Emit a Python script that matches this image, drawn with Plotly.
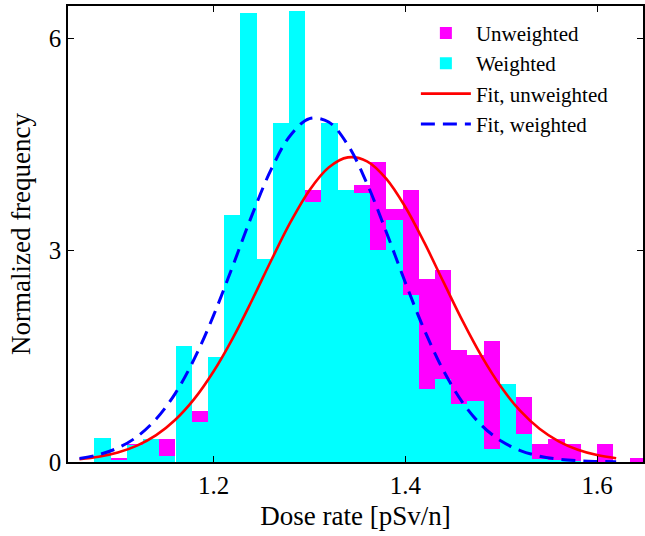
import plotly.graph_objects as go

# ---- data ----
bin_centers = [1.0841, 1.1010, 1.1179, 1.1348, 1.1517, 1.1687, 1.1856, 1.2025,
               1.2194, 1.2363, 1.2533, 1.2702, 1.2871, 1.3040, 1.3209, 1.3379,
               1.3548, 1.3717, 1.3886, 1.4055, 1.4225, 1.4394, 1.4563, 1.4732,
               1.4901, 1.5071, 1.5240, 1.5409, 1.5578, 1.5747, 1.5917, 1.6086,
               1.6255, 1.6424]
bin_width = 0.01692

unweighted = [0.10, 0.05, 0.26, 0.25, 0.32, 0.90, 0.72, 1.20,
              2.00, 2.40, 2.60, 3.10, 3.60, 3.85, 4.10, 3.70,
              3.92, 4.25, 3.59, 3.86, 2.59, 2.72, 1.59, 1.52,
              1.71, 0.95, 0.92, 0.255, 0.32, 0.255, 0.0, 0.255,
              0.0, 0.06]
weighted = [0.34, 0.02, 0.24, 0.32, 0.085, 1.65, 0.57, 1.49,
            3.50, 6.36, 2.87, 4.80, 6.39, 3.68, 4.80, 3.85,
            3.81, 3.01, 3.43, 2.37, 1.04, 1.17, 0.82, 0.87,
            0.18, 1.11, 0.39, 0.04, 0.02, 0.01, 0.0, 0.0,
            0.0, 0.0]

fit_x = [1.06, 1.08, 1.10, 1.12, 1.14, 1.16, 1.18, 1.20, 1.22, 1.24,
         1.26, 1.28, 1.30, 1.32, 1.34, 1.36, 1.38, 1.40, 1.42, 1.44,
         1.46, 1.48, 1.50, 1.52, 1.54, 1.56, 1.58, 1.60, 1.62]
fit_unweighted = [0.039, 0.074, 0.134, 0.232, 0.381, 0.599, 0.898, 1.286, 1.756, 2.292,
                  2.854, 3.393, 3.851, 4.172, 4.315, 4.260, 4.015, 3.613, 3.103, 2.544,
                  1.991, 1.488, 1.061, 0.723, 0.470, 0.292, 0.173, 0.098, 0.053]
fit_weighted = [0.051, 0.104, 0.199, 0.358, 0.609, 0.973, 1.467, 2.080, 2.779, 3.497,
                4.145, 4.626, 4.864, 4.816, 4.491, 3.945, 3.263, 2.542, 1.866, 1.289,
                0.839, 0.514, 0.297, 0.162, 0.083, 0.040, 0.018, 0.008, 0.003]

x_ticks = [1.2, 1.4, 1.6]
y_ticks = [0, 3, 6]

FONT = "Liberation Serif"

fig = go.Figure()
fig.add_trace(go.Bar(x=bin_centers, y=unweighted, width=bin_width, name="Unweighted",
                     marker=dict(color="#FF00FF", line=dict(width=0))))
fig.add_trace(go.Bar(x=bin_centers, y=weighted, width=bin_width, name="Weighted",
                     marker=dict(color="#00FFFF", line=dict(width=0))))
fig.add_trace(go.Scatter(x=fit_x, y=fit_unweighted, mode="lines", name="Fit, unweighted",
                         line=dict(color="#FF0000", width=2.6, shape="spline")))
fig.add_trace(go.Scatter(x=fit_x, y=fit_weighted, mode="lines", name="Fit, weighted",
                         line=dict(color="#0000FF", width=3, dash="14px,8px", shape="spline")))

fig.update_layout(
    width=645, height=536,
    margin=dict(l=68, r=0, t=6, b=74),
    paper_bgcolor="white", plot_bgcolor="white",
    barmode="overlay", bargap=0,
    font=dict(family=FONT, color="black"),
    showlegend=True,
    legend=dict(x=0.605, y=0.985, xanchor="left", yanchor="top",
                bgcolor="rgba(0,0,0,0)", borderwidth=0,
                font=dict(family=FONT, size=21, color="black"),
                itemwidth=50, tracegroupgap=0, traceorder="normal"),
)
fig.update_xaxes(range=[1.048, 1.648], tickvals=x_ticks, ticktext=["1.2", "1.4", "1.6"],
                 ticks="inside", ticklen=6, tickwidth=1, tickcolor="black",
                 showline=True, linecolor="black", linewidth=1.5, mirror="ticks",
                 showgrid=False, zeroline=False,
                 tickfont=dict(family=FONT, size=25),
                 title=dict(text="Dose rate [pSv/n]", font=dict(family=FONT, size=27), standoff=8))
fig.update_yaxes(range=[0, 6.46], tickvals=y_ticks, ticktext=["0", "3", "6"],
                 ticks="inside", ticklen=6, tickwidth=1, tickcolor="black",
                 showline=True, linecolor="black", linewidth=1.5, mirror="ticks",
                 showgrid=False, zeroline=False,
                 tickfont=dict(family=FONT, size=25),
                 title=dict(text="Normalized frequency", font=dict(family=FONT, size=27), standoff=10))

fig.write_html("out.html", config={"displayModeBar": False},
               post_script="document.body.style.margin='0';")
